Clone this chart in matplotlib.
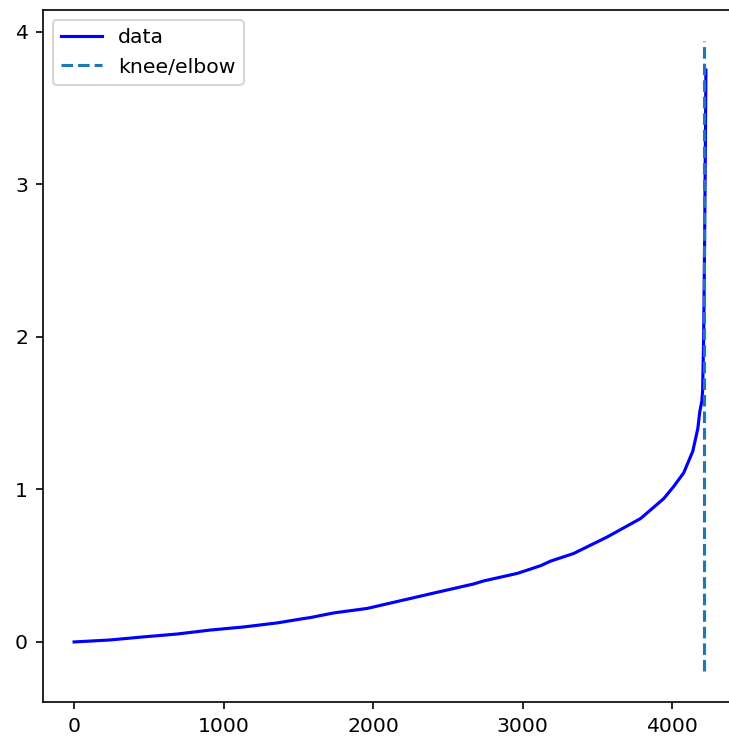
import matplotlib
matplotlib.use("Agg")
import matplotlib.pyplot as plt

# sorted k-distance curve
x = [0, 241, 462, 690, 911, 1132, 1360, 1514, 1581, 1735, 1962, 2183, 2404,
     2672, 2740, 2967, 3121, 3188, 3342, 3570, 3791, 3945, 4012, 4079, 4139,
     4173, 4186, 4200, 4205, 4212, 4218, 4223, 4227]
y = [0.0, 0.013, 0.033, 0.052, 0.078, 0.098, 0.125, 0.15, 0.16, 0.19, 0.22,
     0.27, 0.32, 0.38, 0.40, 0.45, 0.50, 0.53, 0.58, 0.69, 0.81, 0.94, 1.02,
     1.11, 1.25, 1.40, 1.51, 1.58, 1.65, 2.0, 2.6, 3.2, 3.75]
knee = 4214

plt.rcParams["font.size"] = 9.8

fig = plt.figure(figsize=(729 / 150, 737 / 150), dpi=150)
ax = fig.add_axes([42.5 / 729, 35 / 737, 695 / 729, 692 / 737])
ax.plot(x, y, "b", label="data")
ymin, ymax = ax.get_ylim()
ax.vlines(knee, ymin, ymax, linestyles="--", label="knee/elbow")
ax.legend(loc="upper left")

fig.savefig("out.png", dpi=150)
